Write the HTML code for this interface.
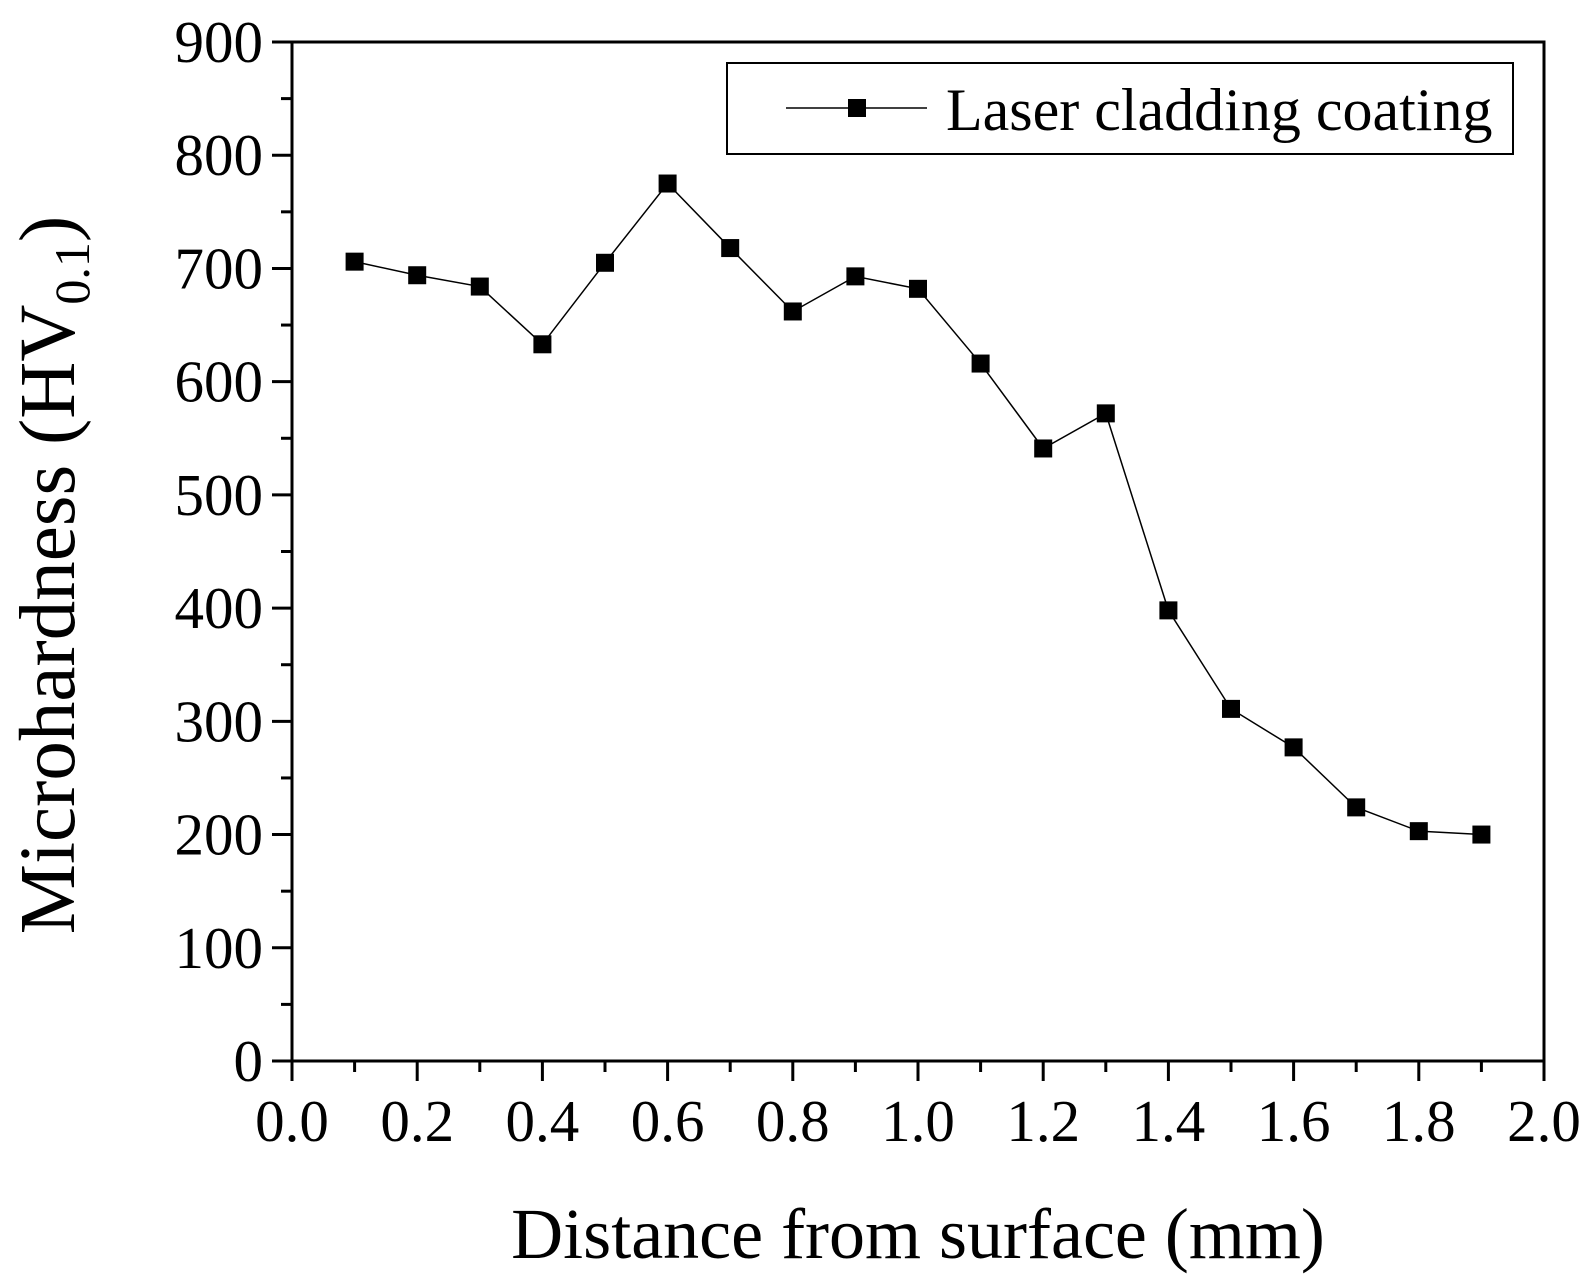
<!DOCTYPE html>
<html><head><meta charset="utf-8"><style>
html,body{margin:0;padding:0;background:#fff;}
svg{display:block;font-family:"Liberation Serif",serif;}
</style></head><body>
<svg id="chart" width="1594" height="1286" viewBox="0 0 1594 1286" xmlns="http://www.w3.org/2000/svg">
<g id="marks"></g>
<g id="axes"></g>
<text x="918" y="1258" font-size="72" text-anchor="middle">Distance from surface (mm)</text>
<text transform="translate(74,575) rotate(-90)" font-size="79" text-anchor="middle">Microhardness (HV<tspan font-size="50" dy="15">0.1</tspan><tspan dy="-15">)</tspan></text>
<g>
<rect x="727" y="63" width="786" height="91" fill="#fff" stroke="#000" stroke-width="2"/>
<line x1="786" y1="108" x2="927" y2="108" stroke="#000" stroke-width="1.5"/>
<rect x="848" y="99" width="18" height="18" fill="#000"/>
<text x="946" y="130" font-size="60">Laser cladding coating</text>
</g>
</svg>
<script>
const xValues=[0.1,0.2,0.3,0.4,0.5,0.6,0.7,0.8,0.9,1.0,1.1,1.2,1.3,1.4,1.5,1.6,1.7,1.8,1.9];
const hardness=[706,694,684,633,705,775,718,662,693,682,616,541,572,398,311,277,224,203,200];
const xTicks=["0.0","0.2","0.4","0.6","0.8","1.0","1.2","1.4","1.6","1.8","2.0"];
const yTicks=["0","100","200","300","400","500","600","700","800","900"];
const NS="http://www.w3.org/2000/svg";
const L=292,R=1544,T=42,B=1061;
const xs=v=>L+(v-0)/2*(R-L);
const ys=v=>B-(v/900)*(B-T);
const ax=document.getElementById('axes'),mk=document.getElementById('marks');
function mkEl(tag,attrs,parent){const e=document.createElementNS(NS,tag);for(const k in attrs)e.setAttribute(k,attrs[k]);parent.appendChild(e);return e;}
const frame=mkEl('rect',{x:L,y:T,width:R-L,height:B-T,fill:'none',stroke:'#000','stroke-width':3},ax);


for(let i=0;i<=20;i++){const v=i*0.1,x=xs(v),major=i%2===0;
 const t=mkEl('line',{x1:x,y1:B,x2:x,y2:B+(major?20:11),stroke:'#000','stroke-width':3},ax);
 
 }
xTicks.forEach(s=>{const tx=mkEl('text',{x:xs(parseFloat(s)),y:1141,'font-size':59,'text-anchor':'middle'},ax);tx.textContent=s;
 
 });
for(let i=0;i<=18;i++){const v=i*50,y=ys(v),major=i%2===0;
 const t=mkEl('line',{x1:L,y1:y,x2:L-(major?20:11),y2:y,stroke:'#000','stroke-width':3},ax);
 
 }
yTicks.forEach(s=>{const tx=mkEl('text',{x:263,y:ys(parseFloat(s))+20,'font-size':59,'text-anchor':'end'},ax);tx.textContent=s;
 
 });
const pts=xValues.map((v,i)=>xs(v)+','+ys(hardness[i])).join(' ');
const pl=mkEl('polyline',{points:pts,fill:'none',stroke:'#000','stroke-width':1.5},mk);


xValues.forEach((v,i)=>{const r=mkEl('rect',{x:xs(v)-9,y:ys(hardness[i])-9,width:18,height:18,fill:'#000'},mk);
 
 });
</script>
</body></html>
